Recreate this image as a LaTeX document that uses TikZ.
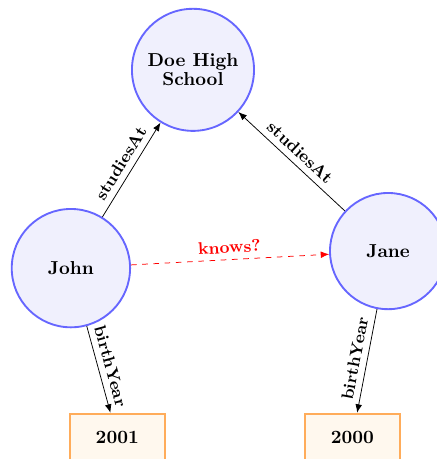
\documentclass[tikz,border=0pt]{standalone}
\usepackage{tikz}
\usetikzlibrary{arrows.meta}
\definecolor{NodeBlue}{RGB}{102,102,255}
\definecolor{NodeFill}{RGB}{240,240,253}
\definecolor{LitOrange}{RGB}{255,172,90}
\definecolor{LitFill}{RGB}{255,248,238}
\definecolor{GuessRed}{RGB}{255,0,0}

\begin{document}
\begin{tikzpicture}[
  entity/.style={circle, draw=NodeBlue, line width=1pt, fill=NodeFill, minimum size=2.22cm, align=center, font=\bfseries},
  literal/.style={rectangle, draw=LitOrange, line width=1pt, fill=LitFill, minimum width=1.78cm, minimum height=0.9cm, font=\bfseries},
  rel/.style={-{Latex[length=4.5pt, width=3.6pt]}, font=\small\bfseries}
]
\useasboundingbox (0,0) rectangle (8.19,-8.61);
\node[entity, minimum size=2.29cm] (school) at (3.62,-1.31) {Doe High\\[-2pt]School};
\node[entity] (john) at (1.33,-5.03) {John};
\node[entity, minimum size=2.18cm] (jane) at (7.28,-4.71) {Jane};
\node[literal] (y2001) at (2.20,-8.21) {2001};
\node[literal] (y2000) at (6.61,-8.21) {2000};

\draw[rel] (john) -- node[sloped, above] {studiesAt} (school);
\draw[rel] (jane) -- node[sloped, above] {studiesAt} (school);
\draw[rel, GuessRed, dashed] (john) -- node[sloped, above] {knows?} (jane);
\draw[rel] (john) -- node[sloped, above] {birthYear} (y2001);
\draw[rel] (jane) -- node[sloped, above] {birthYear} (y2000);
\end{tikzpicture}
\end{document}
